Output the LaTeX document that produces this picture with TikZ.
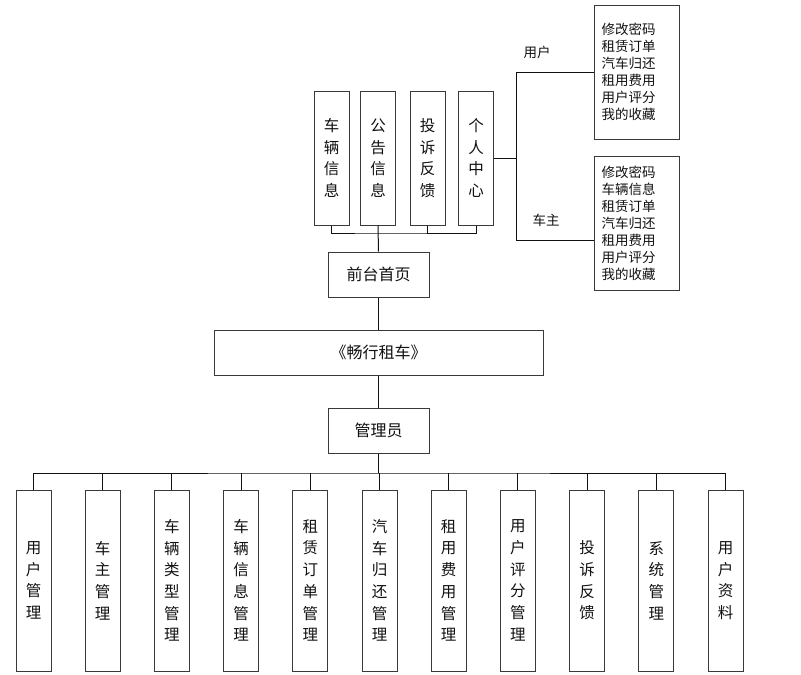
\documentclass[tikz,border=0pt]{standalone}
\usepackage{fontspec}
\setmainfont{Noto Sans CJK SC}
\usepackage{tikz}
\usepackage{xcolor}
\usetikzlibrary{positioning}
\definecolor{cInk}{HTML}{111111}
\definecolor{cEdge}{HTML}{3A3A3A}
\tikzset{
  box/.style   ={draw=cEdge,line width=1pt,fill=white,text=cInk,
                 align=center,inner sep=0pt},
  vbox/.style  ={box,minimum width=35pt,font=\fontsize{15.5}{21.7}\selectfont},
  tbox/.style  ={vbox,minimum height=134pt},
  bbox/.style  ={vbox,minimum height=181pt},
  hbox/.style  ={box,minimum height=45pt,font=\fontsize{16}{20}\selectfont},
  lbox/.style  ={box,minimum width=85pt,text width=70pt,align=left,
                 inner xsep=7.5pt,font=\fontsize{13.5}{17}\selectfont},
  ln/.style    ={line width=1pt,cInk},
  lbl/.style   ={font=\fontsize{13.5}{16}\selectfont,text=cInk},
}
\begin{document}
\begin{tikzpicture}[x=1pt,y=-1pt,node distance=33.2pt]
\useasboundingbox (0,0) rectangle (801,675);

% front end
\node[tbox] (car)      at (331.5,158) {车\\辆\\信\\息};
\node[tbox] (notice)   at (378,158)   {公\\告\\信\\息};
\node[tbox] (feedback) at (427.5,158) {投\\诉\\反\\馈};
\node[tbox] (center)   at (476,158)   {个\\人\\中\\心};
\node[hbox,minimum width=101pt] (front) at (378.5,274.5) {前台首页};

% personal centre
\node[lbox,minimum height=134pt] (userBox)  at (636.5,72)
  {修改密码\\租赁订单\\汽车归还\\租用费用\\用户评分\\我的收藏};
\node[lbox,minimum height=134pt] (ownerBox) at (636.5,223)
  {修改密码\\车辆信息\\租赁订单\\汽车归还\\租用费用\\用户评分\\我的收藏};
\node[lbl] (userLbl)  at (537,52)  {用户};
\node[lbl] (ownerLbl) at (546,220) {车主};
\coordinate (split)   at (516,158);
\coordinate (ownerIn) at (594,240);
\coordinate (topbus)  at (378,233);

% system and admin
\node[hbox,minimum width=329pt] (sys)   at (378.5,352.5) {《畅行租车》};
\node[hbox,minimum width=101pt] (admin) at (378.5,430.5) {管理员};
\coordinate (adbus) at (378.5,473);

% admin modules
\node[bbox] (m1) at (33.5,580.5) {用\\户\\管\\理};
\node[bbox,right=of m1] (m2)  {车\\主\\管\\理};
\node[bbox,right=of m2] (m3)  {车\\辆\\类\\型\\管\\理};
\node[bbox,right=of m3] (m4)  {车\\辆\\信\\息\\管\\理};
\node[bbox,right=of m4] (m5)  {租\\赁\\订\\单\\管\\理};
\node[bbox,right=of m5] (m6)  {汽\\车\\归\\还\\管\\理};
\node[bbox,right=of m6] (m7)  {租\\用\\费\\用\\管\\理};
\node[bbox,right=of m7] (m8)  {用\\户\\评\\分\\管\\理};
\node[bbox,right=of m8] (m9)  {投\\诉\\反\\馈};
\node[bbox,right=of m9] (m10) {系\\统\\管\\理};
\node[bbox,right=of m10] (m11) {用\\户\\资\\料};

\draw[ln] (car.south) |- (topbus) -| (center.south);
\draw[ln] (feedback.south) -- (feedback.south |- topbus);
\draw[ln] (notice.south) -- (front.north);
\draw[ln] (front.south) -- (sys.north);
\draw[ln] (sys.south) -- (admin.north);
\draw[ln] (center.east) -- (split);
\draw[ln] (split) |- (userBox.west);
\draw[ln] (split) |- (ownerIn);
\draw[ln] (admin.south) -- (adbus);
\draw[ln] (m1.north) |- (adbus) -| (m11.north);
\draw[ln] (m2.north) -- (m2.north |- adbus);
\draw[ln] (m3.north) -- (m3.north |- adbus);
\draw[ln] (m4.north) -- (m4.north |- adbus);
\draw[ln] (m5.north) -- (m5.north |- adbus);
\draw[ln] (m6.north) -- (m6.north |- adbus);
\draw[ln] (m7.north) -- (m7.north |- adbus);
\draw[ln] (m8.north) -- (m8.north |- adbus);
\draw[ln] (m9.north) -- (m9.north |- adbus);
\draw[ln] (m10.north) -- (m10.north |- adbus);
\end{tikzpicture}
\end{document}
